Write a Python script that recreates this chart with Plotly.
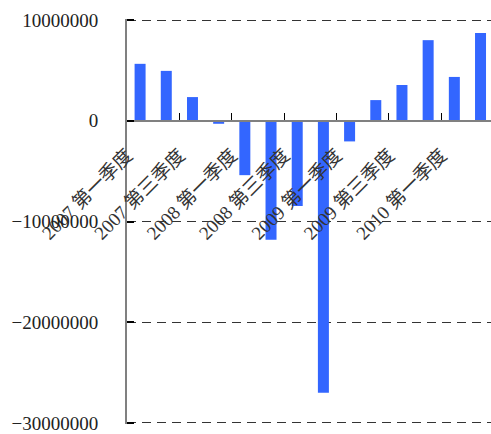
import plotly.graph_objects as go

# Quarterly values, 2007 Q1 – 2010 Q2
quarters = [
    "2007 第一季度", "2007 第二季度", "2007 第三季度", "2007 第四季度",
    "2008 第一季度", "2008 第二季度", "2008 第三季度", "2008 第四季度",
    "2009 第一季度", "2009 第二季度", "2009 第三季度", "2009 第四季度",
    "2010 第一季度", "2010 第二季度",
]
values = [
    5650000, 4950000, 2350000, -300000,
    -5400000, -11800000, -8450000, -27000000,
    -2050000, 2050000, 3550000, 8000000,
    4350000, 8700000,
]
y_ticks = [-30000000, -20000000, -10000000, 0, 10000000]

positions = list(range(len(quarters)))
# every other quarter is labelled, at the left boundary of its slot
label_pos = [p - 0.5 for p in positions[::2]]
label_text = quarters[::2]

font_family = "Liberation Serif, Noto Sans CJK SC, serif"

fig = go.Figure(
    go.Bar(
        x=positions,
        y=values,
        marker=dict(color="#3366FF", line=dict(width=0)),
        hoverinfo="skip",
    )
)

# small pad so the outermost gridlines stay inside the plot area
pad = 100000
y_range = [y_ticks[0] - pad, y_ticks[-1] + pad]
zero_frac = (0 - y_range[0]) / (y_range[1] - y_range[0])

fig.update_layout(
    width=491,
    height=434,
    margin=dict(l=127, r=0, t=19, b=8),
    paper_bgcolor="white",
    plot_bgcolor="white",
    bargap=0.58,
    showlegend=False,
    font=dict(family=font_family, size=19, color="#222222"),
    xaxis=dict(
        range=[-0.5, 13.4],
        anchor="free",
        position=zero_frac,
        side="bottom",
        tickmode="array",
        tickvals=label_pos,
        ticktext=label_text,
        tickangle=-45,
        ticks="inside",
        ticklen=7,
        tickwidth=1,
        tickcolor="#000000",
        showline=True,
        linecolor="#808080",
        linewidth=2,
        showgrid=False,
        zeroline=False,
        ticklabelstandoff=15,
        ticklabeloverflow="allow",
        tickfont=dict(family=font_family, size=19, color="#333333"),
    ),
    yaxis=dict(
        range=y_range,
        tickmode="array",
        tickvals=y_ticks,
        tickformat="d",
        ticks="inside",
        ticklen=7,
        tickwidth=2,
        tickcolor="#000000",
        showline=True,
        linecolor="#808080",
        linewidth=2,
        showgrid=True,
        gridcolor="#333333",
        gridwidth=1,
        griddash="9px,6px",
        zeroline=False,
        ticklabelstandoff=23,
        ticklabeloverflow="allow",
        tickfont=dict(family=font_family, size=19, color="#222222"),
    ),
)

fig.write_html("out.html")
